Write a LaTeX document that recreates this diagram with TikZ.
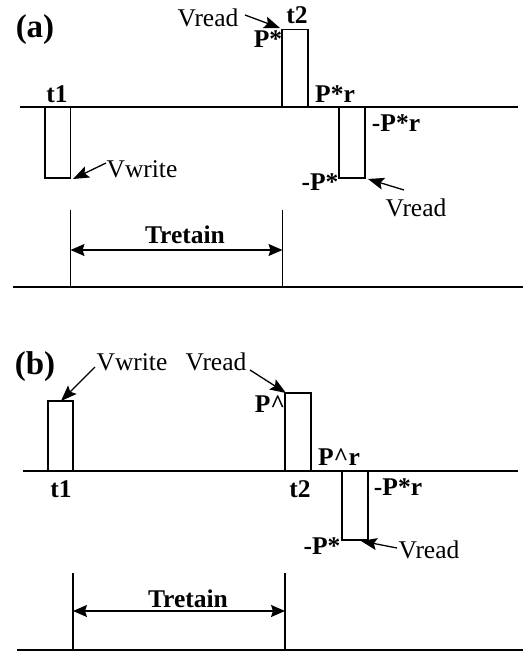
\documentclass[tikz,border=0pt]{standalone}
\usepackage{fontspec}
\setmainfont{Liberation Serif}
\usetikzlibrary{arrows.meta}
\begin{document}
\begin{tikzpicture}[x=1pt,y=-1pt,
  wire/.style={line width=1.4pt},
  pulse/.style={line width=1.4pt},
  lab/.style={font=\fontsize{25.5}{28}\selectfont\bfseries, inner sep=0pt, anchor=base},
  vlab/.style={font=\fontsize{25.5}{28}\selectfont, inner sep=0pt, anchor=base},
  panel/.style={font=\fontsize{33}{36}\selectfont\bfseries, inner sep=0pt, anchor=base},
  pointer/.style={line width=1.3pt, -{Stealth[length=16pt,width=12pt,inset=3pt]}},
  span/.style={line width=1.4pt, {Stealth[length=14pt,width=12pt,inset=2pt]}-{Stealth[length=14pt,width=12pt,inset=2pt]}}]
\useasboundingbox (0,0) rectangle (527,651);

% ---------------- (a) ----------------
\node[panel] (pa) at (35,37) {(a)};
\draw[wire] (20,107) coordinate (a0) -- (518,107) coordinate (a1);
% pulses
\draw[pulse] (45,107) rectangle (70.5,178);
\draw[pulse] (282,107) rectangle (308,29.5);
\draw[pulse] (339,107) rectangle (365,178);
\coordinate (awtip) at (73,179);
\coordinate (artip) at (280,28);
\coordinate (ar2tip) at (368,179);
% labels
\node[lab] (at1) at (57,102) {t1};
\node[lab] (at2) at (297,23) {t2};
\node[vlab] (avr) at (208,26.5) {Vread};
\node[lab] (aps) at (268,47) {P*};
\node[vlab] (avw) at (142,177) {Vwrite};
\node[lab] (apr) at (335,102) {P*r};
\node[lab] (anpr) at (396,131) {-P*r};
\node[lab] (anp) at (320,190) {-P*};
\node[vlab] (avr2) at (416,216) {Vread};
% pointers
\coordinate (avws) at (106,163);
\coordinate (avrs) at (245,15);
\coordinate (avr2s) at (404,190);
\draw[pointer] (avws) -- (awtip);
\draw[pointer] (avrs) -- (artip);
\draw[pointer] (avr2s) -- (ar2tip);
% Tretain
\draw[wire] (13,287) coordinate (ab0) -- (523,287) coordinate (ab1);
\draw[wire] (70.5,210) coordinate (aL) -- (70.5,287);
\draw[wire] (282.5,210) coordinate (aR) -- (282.5,287);
\coordinate (aTl) at (70.5,250);
\coordinate (aTr) at (282.5,250);
\draw[span] (aTl) -- (aTr);
\node[lab] (atr) at (185,243) {Tretain};

% ---------------- (b) ----------------
\node[panel] (pb) at (35,374) {(b)};
\draw[wire] (23,471) coordinate (b0) -- (518,471) coordinate (b1);
\draw[pulse] (48,471) rectangle (73,401);
\draw[pulse] (285,471) rectangle (311,393);
\draw[pulse] (342,471) rectangle (368,540);
\coordinate (bwtip) at (61,401);
\coordinate (brtip) at (286,393);
\coordinate (br2tip) at (361,541);
\node[vlab] (bvw) at (132,370) {Vwrite};
\node[vlab] (bvr) at (216,370) {Vread};
\node[lab] (bps) at (270,412) {P\^{}};
\node[lab] (bpr) at (339,465) {P\^{}r};
\node[lab] (bt1) at (61,497) {t1};
\node[lab] (bt2) at (300,497) {t2};
\node[lab] (bnpr) at (398,495) {-P*r};
\node[lab] (bnp) at (322,554) {-P*};
\node[vlab] (bvr2) at (429,558) {Vread};
\coordinate (bvws) at (95,367);
\coordinate (bvrs) at (250,370);
\coordinate (bvr2s) at (397,548);
\draw[pointer] (bvws) -- (bwtip);
\draw[pointer] (bvrs) -- (brtip);
\draw[pointer] (bvr2s) -- (br2tip);
\draw[wire] (17,650) coordinate (bb0) -- (523,650) coordinate (bb1);
\draw[wire] (73,573) coordinate (bL) -- (73,650);
\draw[wire] (285,573) coordinate (bR) -- (285,650);
\coordinate (bTl) at (73,611);
\coordinate (bTr) at (285,611);
\draw[span] (bTl) -- (bTr);
\node[lab] (btr) at (188,607) {Tretain};
\end{tikzpicture}
\end{document}
